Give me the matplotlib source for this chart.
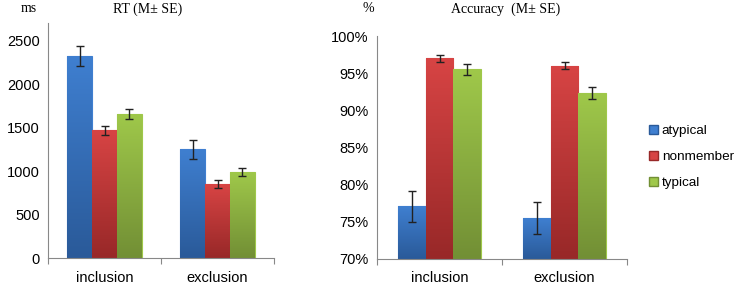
import numpy as np
import matplotlib
matplotlib.use("Agg")
import matplotlib.pyplot as plt
from matplotlib.patches import Patch
from matplotlib.colors import LinearSegmentedColormap

# data
conditions = ["inclusion", "exclusion"]
groups = ["atypical", "nonmember", "typical"]

rt_mean = {
    "atypical": [2330, 1250],
    "nonmember": [1470, 850],
    "typical": [1660, 990],
}
rt_se = {
    "atypical": [115, 110],
    "nonmember": [55, 45],
    "typical": [55, 50],
}
acc_mean = {
    "atypical": [77.1, 75.5],
    "nonmember": [97.0, 96.0],
    "typical": [95.5, 92.3],
}
acc_se = {
    "atypical": [2.1, 2.2],
    "nonmember": [0.5, 0.5],
    "typical": [0.8, 0.8],
}

# top / bottom colour of each gradient
colors = {
    "atypical": ("#3f7fd0", "#2a5a99"),
    "nonmember": ("#d74444", "#982828"),
    "typical": ("#9fc84a", "#728f35"),
}

sans = ["Liberation Sans", "DejaVu Sans"]
serif = ["Liberation Serif", "DejaVu Serif"]
plt.rcParams["font.family"] = sans

fig = plt.figure(figsize=(7.37, 2.84), dpi=100)
ax1 = fig.add_axes([48 / 737, 26 / 284, 226 / 737, 235 / 284])
ax2 = fig.add_axes([377 / 737, 25 / 284, 250 / 737, 223 / 284])


def gradient_bars(ax, means, ses, base):
    x = np.arange(len(conditions))
    w = 0.22
    for i, g in enumerate(groups):
        pos = x + (i - 1) * w
        bars = ax.bar(pos, np.array(means[g]) - base, w, bottom=base,
                      color=colors[g][0], edgecolor=colors[g][0],
                      linewidth=0.8, zorder=2)
        cmap = LinearSegmentedColormap.from_list(g, [colors[g][1], colors[g][0]])
        for b in bars:
            x0, y0 = b.get_x(), b.get_y()
            x1, y1 = x0 + b.get_width(), y0 + b.get_height()
            grad = np.linspace(0, 1, 100).reshape(-1, 1)
            im = ax.imshow(grad, extent=[x0, x1, y0, y1], origin="lower",
                           cmap=cmap, aspect="auto", zorder=2.5)
            im.set_clip_path(b)
        ax.errorbar(pos, means[g], yerr=ses[g], fmt="none", ecolor="#222222",
                    elinewidth=1, capsize=3, capthick=1, zorder=3)
    ax.set_xlim(-0.5, len(conditions) - 0.5)
    ax.set_xticks([-0.5, 0.5, 1.5])
    ax.set_xticklabels([])
    ax.tick_params(axis="x", which="major", length=4, color="#888888")
    ax.set_xticks(x, minor=True)
    ax.set_xticklabels(conditions, minor=True, fontsize=10.5)
    ax.tick_params(axis="x", which="minor", length=0, pad=9)
    ax.tick_params(axis="y", length=0, labelsize=10.5, pad=6)
    for s in ["top", "right"]:
        ax.spines[s].set_visible(False)
    for s in ["left", "bottom"]:
        ax.spines[s].set_color("#888888")
        ax.spines[s].set_linewidth(0.8)


gradient_bars(ax1, rt_mean, rt_se, 0)
ax1.set_ylim(0, 2707)
ax1.set_yticks([0, 500, 1000, 1500, 2000, 2500])

gradient_bars(ax2, acc_mean, acc_se, 70)
ax2.set_ylim(70, 100)
ax2.set_yticks([70, 75, 80, 85, 90, 95, 100])
ax2.set_yticklabels([f"{v}%" for v in [70, 75, 80, 85, 90, 95, 100]])

fig.text(29 / 737, 1 - 9 / 284, "ms", family=serif, fontsize=10, ha="center", va="center")
fig.text(148 / 737, 1 - 9 / 284, "RT (M\u00b1 SE)", family=serif, fontsize=10,
         ha="center", va="center")
fig.text(368 / 737, 1 - 9 / 284, "%", family=serif, fontsize=10, ha="center", va="center")
fig.text(506 / 737, 1 - 9 / 284, "Accuracy  (M\u00b1 SE)", family=serif, fontsize=10,
         ha="center", va="center")

handles = [Patch(facecolor=colors[g][0], edgecolor=colors[g][1]) for g in groups]
fig.legend(handles, groups, loc="center left", bbox_to_anchor=(649 / 737, 1 - 157 / 284),
           frameon=False, fontsize=9.7, handlelength=0.7, handleheight=0.7,
           handletextpad=0.25, labelspacing=1.0, borderpad=0, borderaxespad=0)

fig.savefig("out.png", dpi=100)
